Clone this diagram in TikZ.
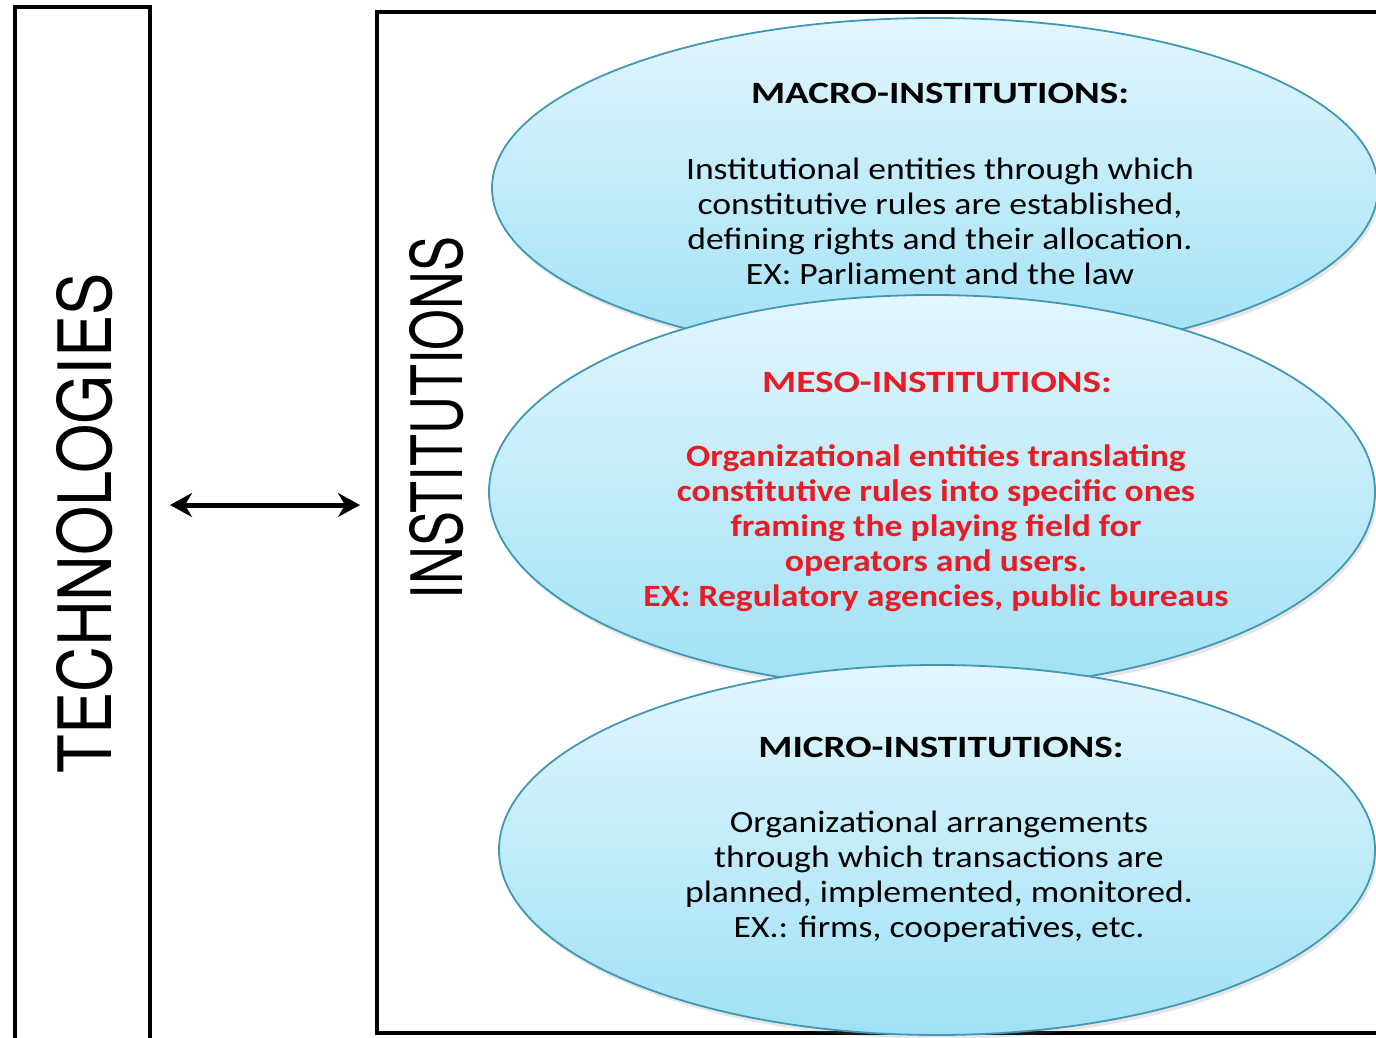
\documentclass[tikz,border=0pt]{standalone}
\usepackage{fontspec}
\setmainfont{Carlito}
\newfontfamily\bodyfont{Carlito}[FakeStretch=1.15]
\newfontfamily\headfont{Carlito}[FakeStretch=1.26]
\newfontfamily\sidefont{TeX Gyre Heros}
\usetikzlibrary{arrows.meta,shapes.geometric,shadows}

\definecolor{skytop}{RGB}{226,246,253}
\definecolor{skybot}{RGB}{160,225,245}
\definecolor{skyedge}{RGB}{66,152,180}
\definecolor{mesored}{RGB}{232,28,36}

\tikzset{
  frame/.style={line width=2.2pt, draw=black},
  blob/.style={ellipse, draw=skyedge, line width=0.9pt, top color=skytop,
    bottom color=skybot, inner sep=0pt,
    drop shadow={shadow xshift=1pt, shadow yshift=-2pt, opacity=0.2}},
  head/.style={font=\headfont\bfseries\fontsize{15.5}{18}\selectfont},
  body/.style={align=center, font=\bodyfont\fontsize{15.5}{17.5}\selectfont},
  side/.style={rotate=90, inner sep=0pt},
  twoway/.style={{Stealth[length=11pt,width=12pt,inset=3.5pt]}-{Stealth[length=11pt,width=12pt,inset=3.5pt]},
    line width=2.5pt}
}

\begin{document}
\begin{tikzpicture}[x=0.5pt, y=-0.5pt]
    \useasboundingbox (0,0) rectangle (1376,1038);
    \clip (0,0) rectangle (1376,1038);

    % Frames
    \draw[frame] (15,7) rectangle (150,1060);
    \draw[frame] (377,12) rectangle (1420,1033);

    % Side labels
    \node[side] (techLabel) at (85,523) {\resizebox{250pt}{27.5pt}{\sidefont TECHNOLOGIES}};
    \node[side] (instLabel) at (437,418) {\resizebox{181pt}{26.5pt}{\sidefont INSTITUTIONS}};

    % Two-way link
    \coordinate (techEast) at (150,505);
    \coordinate (instWest) at (377,505);
    \draw[twoway, shorten <=10pt, shorten >=8.5pt] (techEast) -- (instWest);

    % Macro level
    \node[blob, minimum width=443pt, minimum height=170pt] (macro) at (935,188) {};
    \node[head] (macroHead) at (940,93) {MACRO-INSTITUTIONS:};
    \node[body] (macroBody) at (940,221) {Institutional entities through which\\
      constitutive rules are established,\\
      defining rights and their allocation.\\
      EX: Parliament and the law};

    % Meso level
    \node[blob, minimum width=443pt, minimum height=197pt] (meso) at (932,492) {};
    \node[head, mesored] (mesoHead) at (937,382) {MESO-INSTITUTIONS:};
    \node[body, mesored, font=\bodyfont\bfseries\fontsize{15.5}{17.5}\selectfont] (mesoBody) at (936,528)
      {Organizational entities translating\\
      constitutive rules into specific ones\\
      framing the playing field for\\
      operators and users.\\
      EX: Regulatory agencies, public bureaus};

    % Micro level
    \node[blob, minimum width=438pt, minimum height=185pt] (micro) at (937,850) {};
    \node[head] (microHead) at (941,747) {MICRO-INSTITUTIONS:};
    \node[body] (microBody) at (939,877) {Organizational arrangements\\
      through which transactions are\\
      planned, implemented, monitored.\\
      EX.: firms, cooperatives, etc.};
\end{tikzpicture}
\end{document}
